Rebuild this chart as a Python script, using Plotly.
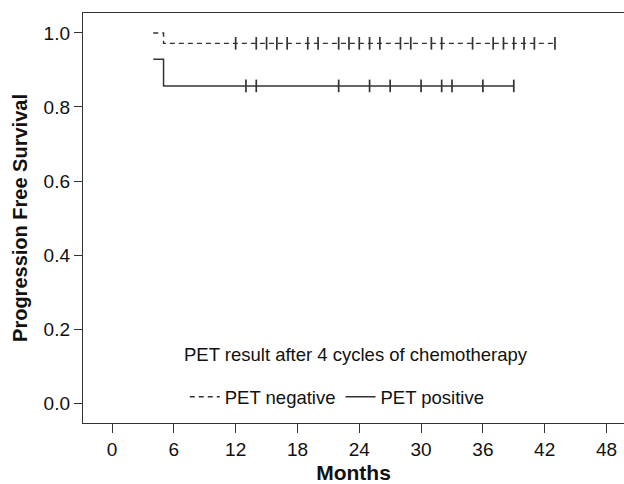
import plotly.graph_objects as go

# Kaplan-Meier step data (months, survival probability)
neg_times = [4, 5, 43]
neg_surv = [1.0, 0.972, 0.972]
neg_censor = [12, 14, 15, 16, 17, 19, 20, 22, 23, 24, 25, 26, 28, 29, 31, 32,
              35, 37, 38, 39, 40, 41, 43]

pos_times = [4, 5, 39]
pos_surv = [0.929, 0.857, 0.857]
pos_censor = [13, 14, 22, 25, 27, 30, 32, 33, 36, 39]

x_ticks = [0, 6, 12, 18, 24, 30, 36, 42, 48]
y_ticks = [0.0, 0.2, 0.4, 0.6, 0.8, 1.0]

LINE = "#333333"
FONT = "Liberation Sans, Arial, sans-serif"


def surv_at(times, surv, t):
    val = surv[0]
    for ti, si in zip(times, surv):
        if ti <= t:
            val = si
    return val


fig = go.Figure()

fig.add_trace(go.Scatter(
    x=neg_times, y=neg_surv, mode="lines", line_shape="hv",
    line=dict(color=LINE, width=1.4, dash="5px,4px"),
    name="PET negative"))
fig.add_trace(go.Scatter(
    x=neg_censor, y=[surv_at(neg_times, neg_surv, t) for t in neg_censor],
    mode="markers", showlegend=False, hoverinfo="skip",
    marker=dict(symbol="line-ns", size=9, line=dict(color=LINE, width=1.7))))

fig.add_trace(go.Scatter(
    x=pos_times, y=pos_surv, mode="lines", line_shape="hv",
    line=dict(color=LINE, width=1.5),
    name="PET positive"))
fig.add_trace(go.Scatter(
    x=pos_censor, y=[surv_at(pos_times, pos_surv, t) for t in pos_censor],
    mode="markers", showlegend=False, hoverinfo="skip",
    marker=dict(symbol="line-ns", size=9, line=dict(color=LINE, width=1.7))))

fig.add_annotation(
    text="PET result after 4 cycles of chemotherapy",
    xref="paper", yref="paper", x=0.504, y=0.166,
    xanchor="center", yanchor="middle", showarrow=False,
    font=dict(family=FONT, size=18.5, color="#111"))

fig.update_layout(
    width=624, height=484,
    margin=dict(l=83, r=0, t=13, b=61),
    paper_bgcolor="white", plot_bgcolor="white",
    font=dict(family=FONT, size=18, color="#111"),
    showlegend=True,
    legend=dict(orientation="h", x=0.47, y=0.063, xanchor="center",
                yanchor="middle", bgcolor="rgba(0,0,0,0)",
                font=dict(family=FONT, size=18.5, color="#111"),
                itemwidth=30, tracegroupgap=0),
    xaxis=dict(range=[-2.82, 49.7], tickvals=x_ticks,
               ticktext=[str(v) for v in x_ticks],
               showgrid=False, zeroline=False,
               showline=True, mirror=True, linecolor=LINE, linewidth=1.4,
               ticks="outside", ticklen=9, tickwidth=1.2, tickcolor=LINE,
               tickfont=dict(family=FONT, size=19, color="#111"),
               title=dict(text="<b>Months</b>", standoff=6,
                          font=dict(family=FONT, size=21, color="#111"))),
    yaxis=dict(range=[-0.054, 1.054], tickvals=y_ticks,
               ticktext=[f"{v:.1f}" for v in y_ticks],
               showgrid=False, zeroline=False,
               showline=True, mirror=False, linecolor=LINE, linewidth=1.4,
               ticks="outside", ticklen=8, tickwidth=1.2, tickcolor=LINE,
               tickfont=dict(family=FONT, size=19, color="#111"),
               title=dict(text="<b>Progression Free Survival</b>", standoff=10,
                          font=dict(family=FONT, size=20, color="#111"))),
)

fig.write_html("out.html")
